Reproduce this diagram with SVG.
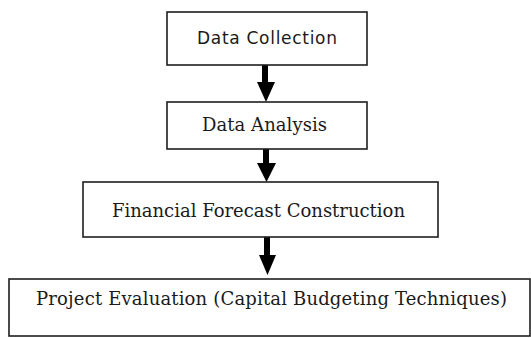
<svg xmlns="http://www.w3.org/2000/svg" width="531" height="338" viewBox="0 0 531 338">
  <style>
    .box { fill: #ffffff; stroke: #1e1e1e; stroke-width: 1.6; }
    .lbl { font-family: "DejaVu Serif", "Liberation Serif", serif; font-size: 18px; fill: #1a1a1a; }
    .sans { font-family: "DejaVu Sans", "Liberation Sans", sans-serif; font-size: 17px; fill: #1a1a1a; }
    .shaft { stroke: #000000; stroke-width: 6; }
    .head { fill: #000000; }
  </style>
  <rect width="531" height="338" fill="#ffffff"/>

  <g id="connectors">
    <line class="shaft" x1="265" y1="65" x2="265" y2="84"/>
    <polygon class="head" points="257,82 275,82 266,102"/>
    <line class="shaft" x1="266" y1="149" x2="266" y2="165"/>
    <polygon class="head" points="257,163 276,163 266.5,182"/>
    <line class="shaft" x1="267" y1="237" x2="267" y2="257"/>
    <polygon class="head" points="259,255 276,255 267.5,275"/>
  </g>

  <g id="data-collection">
    <rect class="box" x="167" y="12" width="200" height="53"/>
    <text class="sans" x="197" y="44" textLength="140" lengthAdjust="spacing">Data Collection</text>
  </g>

  <g id="data-analysis">
    <rect class="box" x="167" y="102" width="200" height="47"/>
    <text class="lbl" x="202" y="131" textLength="125" lengthAdjust="spacing">Data Analysis</text>
  </g>

  <g id="financial-forecast">
    <rect class="box" x="83" y="182" width="355" height="55"/>
    <text class="lbl" x="112" y="217" textLength="293" lengthAdjust="spacing">Financial Forecast Construction</text>
  </g>

  <g id="project-evaluation">
    <rect class="box" x="9" y="279" width="521" height="57"/>
    <text class="lbl" x="36" y="305" textLength="471" lengthAdjust="spacing">Project Evaluation (Capital Budgeting Techniques)</text>
  </g>
</svg>
